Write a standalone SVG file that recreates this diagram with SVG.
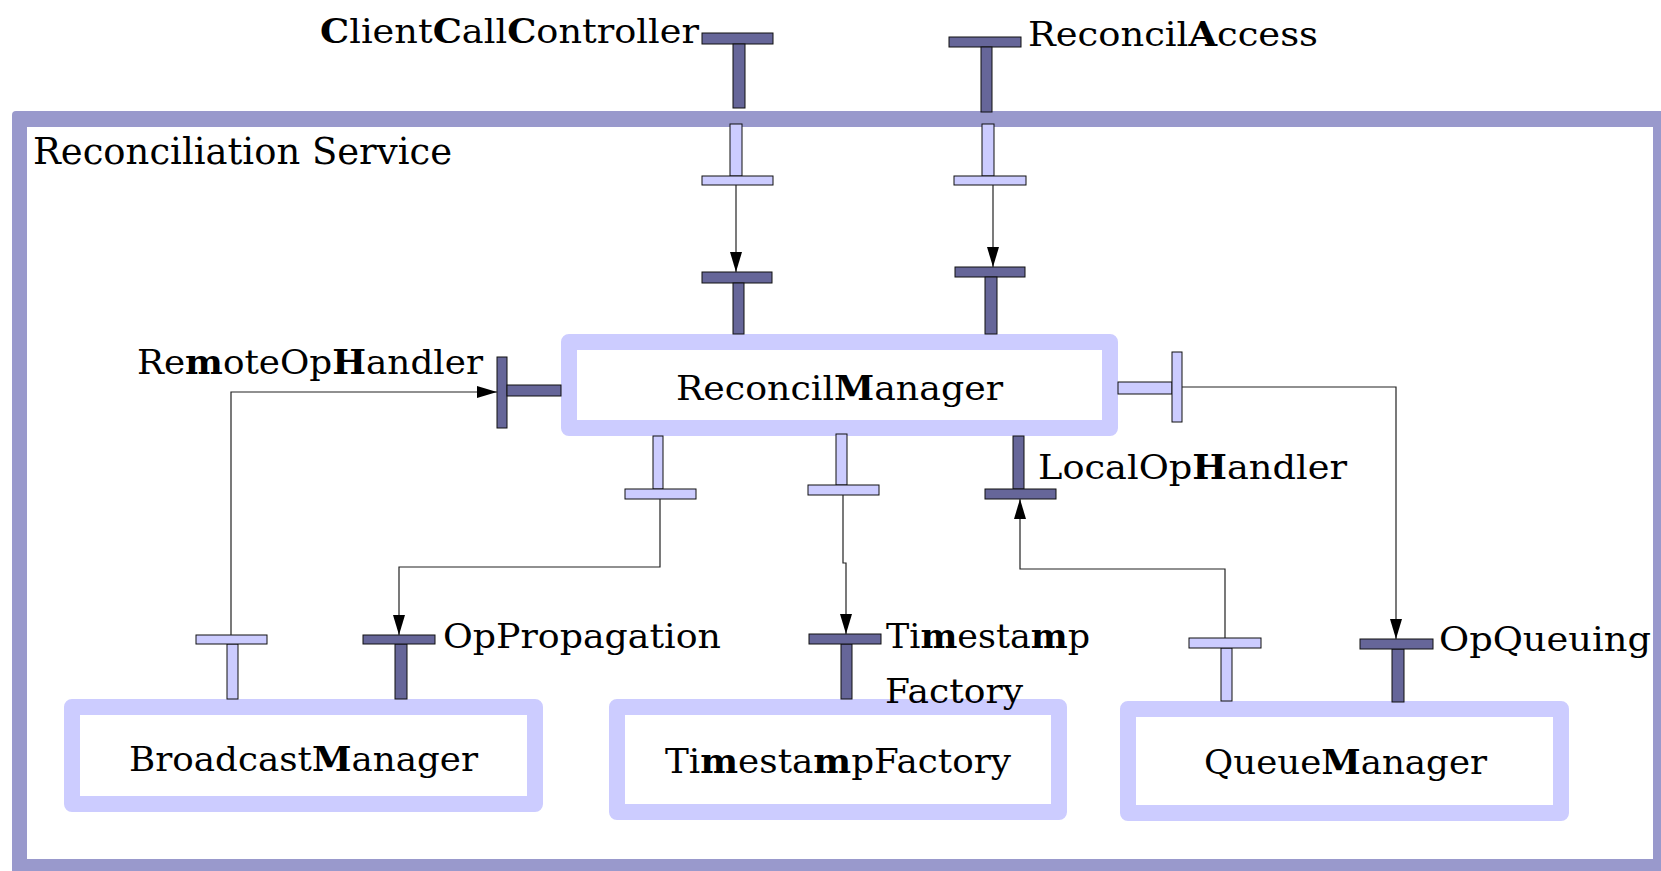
<svg xmlns="http://www.w3.org/2000/svg" width="1661" height="871" viewBox="0 0 1661 871">
  <style>
    text { font-family: "DejaVu Serif", "Liberation Serif", serif; font-size: 34px; fill: #000; }
    text.title { font-size: 37px; }
    .b { font-weight: bold; }
    .box { fill: #fff; stroke: #ccccff; stroke-width: 16; stroke-linejoin: round; }
    .prov { fill: #666699; stroke: #111; stroke-width: 1; }
    .req { fill: #ccccff; stroke: #111; stroke-width: 1; }
    .wire { fill: none; stroke: #222; stroke-width: 1.2; }
  </style>
  <defs>
    <marker id="arrow" markerUnits="userSpaceOnUse" markerWidth="20" markerHeight="12" refX="20" refY="6" orient="auto">
      <path d="M0,0 L20,6 L0,12 z" fill="#000"/>
    </marker>
  </defs>

  <rect width="1661" height="871" fill="#fff"/>

  <!-- component frame -->
  <g id="reconciliation-service">
    <rect x="12" y="111" width="1680" height="790" rx="4" fill="#9999cc"/>
    <rect x="27" y="127" width="1626" height="732" fill="#fff"/>
    <text class="title" x="33" y="164" textLength="419" lengthAdjust="spacingAndGlyphs">Reconciliation Service</text>
  </g>

  <!-- external ports on the frame -->
  <g id="port-client-call-controller">
    <rect class="prov" x="702" y="33" width="71" height="11"/>
    <rect class="prov" x="733" y="44" width="12" height="64"/>
    <rect class="req" x="730" y="124" width="12" height="52"/>
    <rect class="req" x="702" y="176" width="71" height="9"/>
    <text x="320" y="43" textLength="379" lengthAdjust="spacingAndGlyphs"><tspan class="b">C</tspan>lient<tspan class="b">C</tspan>all<tspan class="b">C</tspan>ontroller</text>
  </g>
  <g id="port-reconcil-access">
    <rect class="prov" x="949" y="37" width="72" height="10"/>
    <rect class="prov" x="981" y="47" width="11" height="65"/>
    <rect class="req" x="982" y="124" width="12" height="52"/>
    <rect class="req" x="954" y="176" width="72" height="9"/>
    <text x="1028" y="46" textLength="290" lengthAdjust="spacingAndGlyphs">Reconcil<tspan class="b">A</tspan>ccess</text>
  </g>

  <!-- ReconcilManager -->
  <g id="reconcil-manager">
    <rect class="box" x="569" y="342" width="541" height="86"/>
    <text x="676" y="400" textLength="327" lengthAdjust="spacingAndGlyphs">Reconcil<tspan class="b">M</tspan>anager</text>
    <!-- top provided ports -->
    <rect class="prov" x="702" y="272" width="70" height="11"/>
    <rect class="prov" x="733" y="283" width="11" height="51"/>
    <rect class="prov" x="955" y="267" width="70" height="10"/>
    <rect class="prov" x="985" y="277" width="12" height="57"/>
    <!-- RemoteOpHandler (provided, left) -->
    <rect class="prov" x="497" y="357" width="10" height="71"/>
    <rect class="prov" x="507" y="385" width="54" height="11"/>
    <text x="137" y="374" textLength="346" lengthAdjust="spacingAndGlyphs">Re<tspan class="b">m</tspan>oteOp<tspan class="b">H</tspan>andler</text>
    <!-- required port, right -->
    <rect class="req" x="1118" y="382" width="54" height="12"/>
    <rect class="req" x="1172" y="352" width="10" height="70"/>
    <!-- required ports, bottom -->
    <rect class="req" x="653" y="436" width="10" height="53"/>
    <rect class="req" x="625" y="489" width="71" height="10"/>
    <rect class="req" x="836" y="434" width="11" height="51"/>
    <rect class="req" x="808" y="485" width="71" height="10"/>
    <!-- LocalOpHandler (provided, bottom) -->
    <rect class="prov" x="1013" y="436" width="11" height="53"/>
    <rect class="prov" x="985" y="489" width="71" height="10"/>
    <text x="1038" y="479" textLength="309" lengthAdjust="spacingAndGlyphs">LocalOp<tspan class="b">H</tspan>andler</text>
  </g>

  <!-- BroadcastManager -->
  <g id="broadcast-manager">
    <rect class="box" x="72" y="707" width="463" height="97"/>
    <text x="129" y="771" textLength="349" lengthAdjust="spacingAndGlyphs">Broadcast<tspan class="b">M</tspan>anager</text>
    <rect class="req" x="227" y="644" width="11" height="55"/>
    <rect class="req" x="196" y="635" width="71" height="9"/>
    <rect class="prov" x="395" y="644" width="12" height="55"/>
    <rect class="prov" x="363" y="635" width="72" height="9"/>
    <text x="443" y="648" textLength="278" lengthAdjust="spacingAndGlyphs">OpPropagation</text>
  </g>

  <!-- TimestampFactory -->
  <g id="timestamp-factory">
    <rect class="box" x="617" y="707" width="442" height="105"/>
    <text x="665" y="773" textLength="346" lengthAdjust="spacingAndGlyphs">Ti<tspan class="b">m</tspan>esta<tspan class="b">m</tspan>pFactory</text>
    <rect class="prov" x="841" y="644" width="11" height="55"/>
    <rect class="prov" x="809" y="634" width="72" height="10"/>
    <text x="886" y="648" textLength="204" lengthAdjust="spacingAndGlyphs">Ti<tspan class="b">m</tspan>esta<tspan class="b">m</tspan>p</text>
    <text x="885" y="703" textLength="138" lengthAdjust="spacingAndGlyphs">Factory</text>
  </g>

  <!-- QueueManager -->
  <g id="queue-manager">
    <rect class="box" x="1128" y="709" width="433" height="104"/>
    <text x="1204" y="774" textLength="283" lengthAdjust="spacingAndGlyphs">Queue<tspan class="b">M</tspan>anager</text>
    <rect class="req" x="1221" y="648" width="11" height="53"/>
    <rect class="req" x="1189" y="638" width="72" height="10"/>
    <rect class="prov" x="1392" y="649" width="12" height="53"/>
    <rect class="prov" x="1360" y="639" width="73" height="10"/>
    <text x="1439" y="651" textLength="212" lengthAdjust="spacingAndGlyphs">OpQueuing</text>
  </g>

  <!-- connectors -->
  <g id="connectors">
    <path class="wire" d="M736,185 V272" marker-end="url(#arrow)"/>
    <path class="wire" d="M993,185 V267" marker-end="url(#arrow)"/>
    <path class="wire" d="M231,635 V392 H497" marker-end="url(#arrow)"/>
    <path class="wire" d="M660,499 V567 H399 V635" marker-end="url(#arrow)"/>
    <path class="wire" d="M843,495 V563 H846 V634" marker-end="url(#arrow)"/>
    <path class="wire" d="M1225,638 V569 H1020 V499" marker-end="url(#arrow)"/>
    <path class="wire" d="M1182,387 H1396 V639" marker-end="url(#arrow)"/>
  </g>
</svg>
